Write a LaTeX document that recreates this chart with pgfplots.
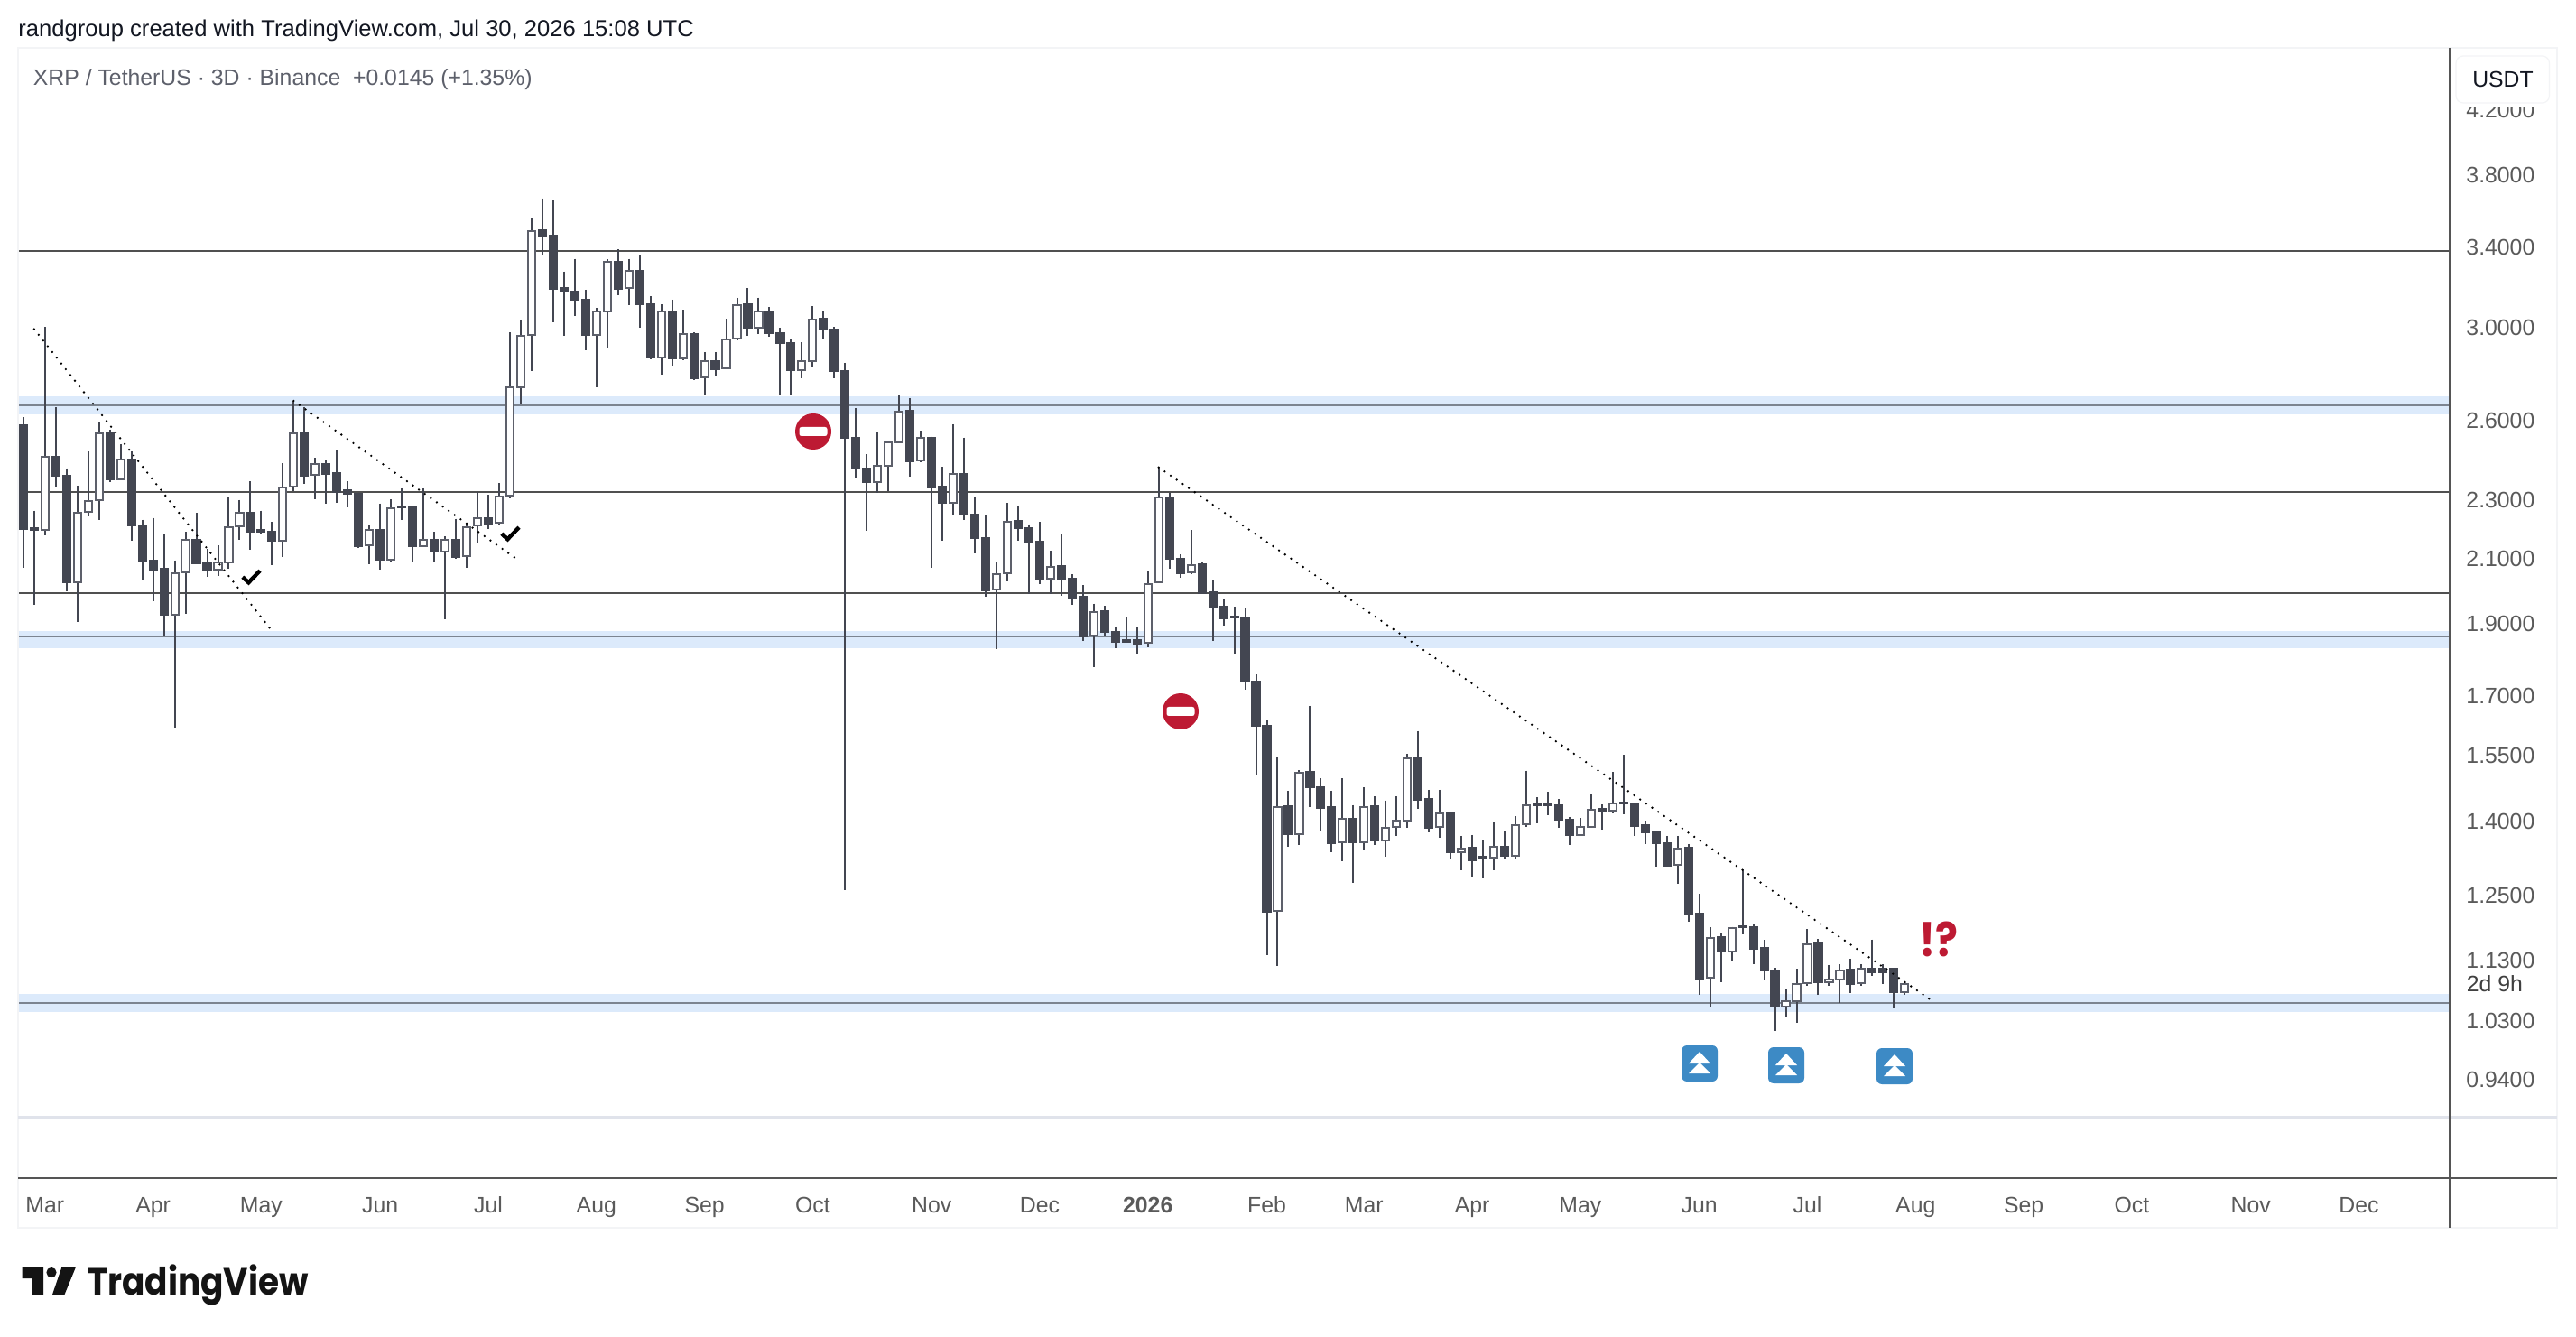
\documentclass[border=0pt]{standalone}
\usepackage{pgfplots}
\usepackage{pgfplotstable}
\pgfplotsset{compat=1.18}
\usepackage{fontspec}
\setmainfont{Liberation Sans}
\newfontfamily\tvfont[FakeStretch=0.89]{Poppins}
\definecolor{cdark}{HTML}{434651}
\definecolor{cedge}{HTML}{5D606B}
\definecolor{bandblue}{HTML}{DCEAFB}
\definecolor{bandline}{HTML}{7C8490}
\definecolor{hline}{HTML}{505050}
\definecolor{framec}{HTML}{F3F4F6}
\definecolor{paneline}{HTML}{E0E3EB}
\definecolor{sep}{HTML}{555555}
\definecolor{tickc}{HTML}{5A5A5A}
\definecolor{redc}{HTML}{BD1A33}
\definecolor{bluec}{HTML}{3D8AC5}
\definecolor{inkc}{HTML}{131722}
\pgfplotstableread{
i o h l c
0 2.577 2.609 2.068 2.197
1 2.199 2.259 1.954 2.192
2 2.192 3.000 2.174 2.453
3 2.453 2.649 2.345 2.385
4 2.385 2.412 1.994 2.022
5 2.022 2.348 1.902 2.251
6 2.254 2.475 2.238 2.292
7 2.295 2.587 2.225 2.544
8 2.544 2.561 2.361 2.369
9 2.372 2.503 2.367 2.445
10 2.445 2.475 2.155 2.207
11 2.207 2.228 2.027 2.090
12 2.092 2.234 1.963 2.063
13 2.065 2.177 1.864 1.923
14 1.924 2.092 1.616 2.052
15 2.053 2.185 1.926 2.158
16 2.160 2.250 2.080 2.083
17 2.085 2.128 2.038 2.061
18 2.063 2.141 2.041 2.084
19 2.085 2.304 2.066 2.203
20 2.205 2.297 2.160 2.250
21 2.251 2.364 2.126 2.187
22 2.192 2.259 2.179 2.188
23 2.185 2.220 2.078 2.155
24 2.156 2.431 2.104 2.342
25 2.345 2.676 2.329 2.544
26 2.545 2.652 2.355 2.385
27 2.388 2.450 2.300 2.426
28 2.427 2.442 2.284 2.392
29 2.394 2.479 2.286 2.325
30 2.331 2.363 2.270 2.317
31 2.318 2.322 2.131 2.139
32 2.142 2.209 2.080 2.192
33 2.193 2.284 2.061 2.093
34 2.094 2.299 2.084 2.266
35 2.274 2.338 2.225 2.270
36 2.270 2.273 2.084 2.137
37 2.138 2.338 2.138 2.158
38 2.159 2.185 2.086 2.120
39 2.121 2.171 1.911 2.158
40 2.159 2.231 2.098 2.104
41 2.105 2.218 2.068 2.203
42 2.208 2.325 2.149 2.232
43 2.233 2.314 2.195 2.215
44 2.216 2.356 2.208 2.310
45 2.313 2.975 2.301 2.731
46 2.734 3.034 2.661 2.958
47 2.961 3.548 2.804 3.479
48 3.483 3.659 3.348 3.451
49 3.455 3.647 3.022 3.181
50 3.184 3.268 2.958 3.166
51 3.168 3.333 3.053 3.127
52 3.130 3.177 2.894 2.963
53 2.964 3.089 2.731 3.070
54 3.071 3.329 2.904 3.315
55 3.317 3.380 3.152 3.183
56 3.186 3.333 3.103 3.271
57 3.273 3.352 2.995 3.105
58 3.105 3.145 2.852 2.860
59 2.862 3.105 2.787 3.070
60 3.071 3.129 2.825 2.857
61 2.859 3.080 2.849 2.966
62 2.968 2.975 2.763 2.772
63 2.775 2.886 2.700 2.844
64 2.846 2.886 2.781 2.810
65 2.812 3.039 2.812 2.944
66 2.947 3.138 2.937 3.103
67 3.105 3.184 2.958 2.995
68 2.995 3.139 2.966 3.070
69 3.071 3.093 2.954 2.971
70 2.971 2.997 2.700 2.925
71 2.925 2.942 2.700 2.805
72 2.807 2.929 2.770 2.844
73 2.847 3.096 2.817 3.036
74 3.037 3.071 2.941 2.986
75 2.988 3.000 2.773 2.802
76 2.802 2.838 1.257 2.526
77 2.528 2.647 2.376 2.410
78 2.410 2.464 2.189 2.360
79 2.361 2.552 2.321 2.419
80 2.421 2.516 2.327 2.509
81 2.509 2.700 2.506 2.633
82 2.635 2.688 2.379 2.439
83 2.441 2.555 2.433 2.526
84 2.528 2.532 2.068 2.342
85 2.343 2.417 2.155 2.286
86 2.287 2.581 2.241 2.390
87 2.391 2.529 2.228 2.245
88 2.246 2.309 2.116 2.164
89 2.165 2.242 1.977 1.998
90 2.001 2.085 1.824 2.049
91 2.051 2.286 2.026 2.221
92 2.223 2.277 2.156 2.200
93 2.200 2.212 1.986 2.153
94 2.153 2.220 2.016 2.032
95 2.034 2.124 1.986 2.072
96 2.073 2.177 1.980 2.033
97 2.034 2.047 1.954 1.976
98 1.978 2.013 1.848 1.861
99 1.863 1.957 1.774 1.932
100 1.933 1.950 1.863 1.872
101 1.873 1.889 1.826 1.844
102 1.851 1.918 1.844 1.845
103 1.851 1.886 1.812 1.841
104 1.842 2.055 1.829 2.018
105 2.021 2.415 2.021 2.304
106 2.305 2.322 2.066 2.096
107 2.096 2.112 2.037 2.052
108 2.053 2.192 2.049 2.078
109 2.079 2.087 1.986 1.988
110 1.992 2.030 1.848 1.946
111 1.948 1.969 1.891 1.914
112 1.918 1.948 1.812 1.915
113 1.915 1.943 1.713 1.734
114 1.734 1.754 1.504 1.620
115 1.620 1.634 1.138 1.216
116 1.217 1.545 1.119 1.430
117 1.431 1.466 1.345 1.370
118 1.371 1.513 1.349 1.508
119 1.509 1.671 1.429 1.474
120 1.474 1.494 1.379 1.428
121 1.429 1.466 1.333 1.351
122 1.353 1.494 1.314 1.403
123 1.404 1.434 1.272 1.354
124 1.354 1.473 1.337 1.430
125 1.431 1.453 1.349 1.357
126 1.358 1.444 1.323 1.385
127 1.386 1.453 1.367 1.399
128 1.399 1.552 1.385 1.541
129 1.542 1.608 1.425 1.446
130 1.447 1.468 1.374 1.385
131 1.386 1.468 1.364 1.415
132 1.416 1.418 1.319 1.333
133 1.334 1.367 1.297 1.341
134 1.342 1.369 1.282 1.317
135 1.323 1.358 1.280 1.322
136 1.322 1.395 1.296 1.344
137 1.344 1.377 1.321 1.325
138 1.326 1.409 1.321 1.390
139 1.392 1.512 1.387 1.433
140 1.435 1.451 1.393 1.433
141 1.435 1.463 1.411 1.433
142 1.434 1.447 1.385 1.401
143 1.401 1.408 1.349 1.369
144 1.369 1.405 1.367 1.387
145 1.387 1.457 1.385 1.424
146 1.425 1.435 1.380 1.420
147 1.421 1.509 1.416 1.437
148 1.439 1.549 1.413 1.437
149 1.436 1.439 1.367 1.389
150 1.390 1.399 1.350 1.374
151 1.374 1.377 1.303 1.352
152 1.352 1.367 1.305 1.306
153 1.308 1.367 1.270 1.340
154 1.342 1.350 1.197 1.212
155 1.213 1.251 1.070 1.097
156 1.098 1.187 1.051 1.168
157 1.169 1.177 1.091 1.143
158 1.144 1.188 1.127 1.186
159 1.189 1.298 1.174 1.187
160 1.187 1.193 1.121 1.149
161 1.150 1.164 1.093 1.110
162 1.111 1.115 1.011 1.051
163 1.051 1.079 1.034 1.059
164 1.059 1.113 1.024 1.088
165 1.089 1.184 1.084 1.157
166 1.158 1.166 1.070 1.091
167 1.091 1.120 1.084 1.096
168 1.096 1.121 1.056 1.111
169 1.112 1.131 1.072 1.088
170 1.089 1.121 1.084 1.113
171 1.114 1.165 1.102 1.107
172 1.114 1.121 1.087 1.108
173 1.113 1.115 1.047 1.074
174 1.074 1.091 1.070 1.088
}\candles
\pgfplotsset{
  wick/.style={cdark,line width=1pt,mark=none},
  darkbody/.style={draw=cdark,fill=cdark,line width=1pt,mark=none},
  whitebody/.style={draw=cedge,fill=white,line width=1pt,mark=none},
  band/.style={draw=none,fill=bandblue,mark=none},
  bline/.style={bandline,line width=1pt,mark=none},
  pline/.style={hline,line width=1pt,mark=none},
  dotline/.style={black,line width=1.3pt,line cap=round,dash pattern=on 0pt off 4.05pt,mark=none},
}
\newcommand{\drawcandle}[1]{%
  \pgfplotstablegetelem{#1}{o}\of\candles\edef\vo{\pgfplotsretval}%
  \pgfplotstablegetelem{#1}{h}\of\candles\edef\vh{\pgfplotsretval}%
  \pgfplotstablegetelem{#1}{l}\of\candles\edef\vl{\pgfplotsretval}%
  \pgfplotstablegetelem{#1}{c}\of\candles\edef\vc{\pgfplotsretval}%
  \pgfmathsetmacro{\xa}{#1-0.34}\pgfmathsetmacro{\xb}{#1+0.34}%
  \ifdim\vc pt<\vo pt\def\bodystyle{darkbody}\else\def\bodystyle{whitebody}\fi
  \edef\tmp{\noexpand\addplot[wick] coordinates {(#1,\vh)(#1,\vl)};
    \noexpand\addplot[\bodystyle] coordinates {(\xa,\vo)(\xb,\vo)(\xb,\vc)(\xa,\vc)} --cycle;}\tmp}
\newcommand{\noentry}[2]{%
  \fill[redc] (#1,#2) circle[radius=20];
  \fill[white,rounded corners=1.2pt] (#1-15.5,#2-5) rectangle (#1+15.5,#2+5);}
\newcommand{\upicon}[2]{%
  \fill[bluec,rounded corners=3pt] (#1,#2) rectangle (#1+40,#2+40);
  \fill[white] (#1+20,#2+7) -- (#1+32,#2+20) -- (#1+8,#2+20) -- cycle;
  \fill[white] (#1+20,#2+19) -- (#1+32,#2+31) -- (#1+8,#2+31) -- cycle;}
\newcommand{\checkmk}[2]{%
  \draw[black,line width=2.2pt] (#1,#2) -- (#1+6.6,#2+6.1) -- (#1+19.2,#2-7);}
\begin{document}
\begin{tikzpicture}
\path[use as bounding box,fill=white] (0,0) rectangle (1427pt,740pt);
\begin{axis}[
  at={(10pt,121.5pt)},anchor=south west,
  scale only axis,width=1347pt,height=592pt,
  xmin=-0.49,xmax=224.4,
  ymode=log,ymin=0.8862,ymax=4.615,
  axis line style={draw=none},
  major tick length=0pt,minor tick length=0pt,
  tick style={draw=none},
  ytick pos=right,yticklabel pos=right,
  xtick pos=bottom,
  ytick={4.2,3.8,3.4,3.0,2.6,2.3,2.1,1.9,1.7,1.55,1.4,1.25,1.13,1.03,0.94},
  yticklabels={4.2000,3.8000,3.4000,3.0000,2.6000,2.3000,2.1000,1.9000,1.7000,1.5500,1.4000,1.2500,1.1300,1.0300,0.9400},
  xtick={2,12,22,33,43,53,63,73,84,94,104,115,124,134,144,155,165,175,185,195,206,216},
  xticklabels={Mar,Apr,May,Jun,Jul,Aug,Sep,Oct,Nov,Dec,\textbf{2026},Feb,Mar,Apr,May,Jun,Jul,Aug,Sep,Oct,Nov,Dec},
  yticklabel style={anchor=west,inner sep=0pt,xshift=9pt,yshift=-0.7pt,font=\fontsize{12.4}{14}\selectfont,text=tickc},
  xticklabel style={anchor=base,inner sep=0pt,yshift=-53pt,font=\fontsize{12.4}{14}\selectfont,text=tickc},
]
\addplot[band] coordinates {(-1,2.696)(226,2.696)(226,2.621)(-1,2.621)} --cycle;
\addplot[band] coordinates {(-1,1.876)(226,1.876)(226,1.826)(-1,1.826)} --cycle;
\addplot[band] coordinates {(-1,1.071)(226,1.071)(226,1.042)(-1,1.042)} --cycle;
\addplot[bline] coordinates {(-1,2.659)(226,2.659)};
\addplot[bline] coordinates {(-1,1.860)(226,1.860)};
\addplot[bline] coordinates {(-1,1.057)(226,1.057)};
\addplot[pline] coordinates {(-1,3.371)(226,3.371)};
\addplot[pline] coordinates {(-1,2.326)(226,2.326)};
\addplot[pline] coordinates {(-1,1.988)(226,1.988)};
\pgfplotsinvokeforeach{0,...,174}{\drawcandle{#1}}
\addplot[dotline] coordinates {(1,2.990)(23,1.876)};
\addplot[dotline] coordinates {(25,2.676)(45.8,2.092)};
\addplot[dotline] coordinates {(105,2.415)(176.6,1.059)};
\end{axis}
\begin{scope}[shift={(0pt,740pt)},x=0.5pt,y=-0.5pt]
% panel frame
\draw[framec,line width=1.25pt] (20,53) rectangle (2833,1360);
\draw[paneline,line width=1.25pt] (20,1237.5) -- (2833,1237.5);
\draw[sep,line width=1.25pt] (20,1305) -- (2833,1305);
\draw[sep,line width=1.25pt] (2714,53) -- (2714,1360);
% price unit button, with the white margin that cuts the top tick label
\fill[white] (2717,110) rectangle (2830,119);
\filldraw[fill=white,draw=framec,line width=0.6pt,rounded corners=4pt] (2721,62) rectangle (2824.5,114);
\node[anchor=center,inner sep=0pt,text=inkc,font=\fontsize{12.4}{14}\selectfont] at (2773,87.5) {USDT};
\node[anchor=west,inner sep=0pt,text=black!75,font=\fontsize{12.4}{14}\selectfont] at (2732.5,1090) {2d 9h};
% header text
\node[anchor=base west,inner sep=0pt,text=inkc,font=\fontsize{12.8}{14}\selectfont] at (20,41) {randgroup created with TradingView.com, Jul 30, 2026 15:08 UTC};
\node[anchor=base west,inner sep=0pt,text=cedge,font=\fontsize{12.4}{14}\selectfont] at (36.5,95) {XRP / TetherUS · 3D · Binance\ \ +0.0145 (+1.35\%)};
% annotations
\noentry{901}{478}
\noentry{1308}{788}
\upicon{1863}{1158}
\upicon{1959}{1160}
\upicon{2079}{1161}
\checkmk{268.8}{639.2}
\checkmk{555.8}{591.2}
\node[anchor=base west,inner sep=0pt,text=redc,font=\tvfont\bfseries\fontsize{26}{28}\selectfont] at (2126,1059) {!?};
% TradingView logo
\fill[black!92] (24.5,1404) -- (48.2,1404) -- (48.2,1434) -- (35.7,1434) -- (35.7,1416) -- (24.5,1416) -- cycle;
\fill[black!92] (57,1409.5) circle[radius=5.6];
\fill[black!92] (68.3,1404) -- (83.8,1404) -- (71.5,1434) -- (58,1434) -- cycle;
\node[anchor=base west,inner sep=0pt,text=black!92,font=\tvfont\bfseries\fontsize{21}{24}\selectfont] at (97,1434) {TradingView};
\end{scope}
\end{tikzpicture}
\end{document}
